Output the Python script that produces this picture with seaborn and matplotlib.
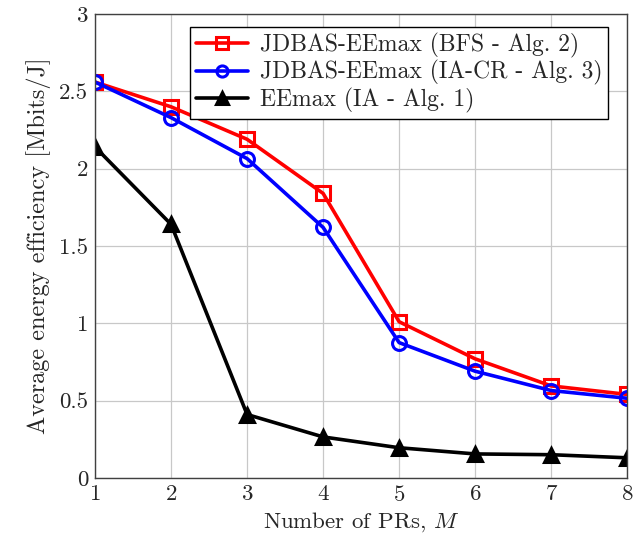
import numpy as np
import pandas as pd
import matplotlib
matplotlib.use('Agg')
import matplotlib.pyplot as plt
import seaborn as sns

num_prs = [1, 2, 3, 4, 5, 6, 7, 8]
ee_bfs = [2.56, 2.40, 2.19, 1.84, 1.01, 0.77, 0.595, 0.54]
ee_iacr = [2.56, 2.33, 2.065, 1.62, 0.875, 0.69, 0.565, 0.515]
ee_ia = [2.14, 1.64, 0.41, 0.265, 0.195, 0.155, 0.15, 0.13]

labels = ['JDBAS-EEmax (BFS - Alg. 2)',
          'JDBAS-EEmax (IA-CR - Alg. 3)',
          'EEmax (IA - Alg. 1)']

sns.set_style('whitegrid')
plt.rcParams['font.family'] = ['cmr10', 'DejaVu Serif']
plt.rcParams['mathtext.fontset'] = 'cm'
plt.rcParams['axes.formatter.use_mathtext'] = True

fig = plt.figure(figsize=(6.38, 5.4), dpi=100)
ax = fig.add_axes([0.149, 0.115, 0.834, 0.859])

series = [
    (ee_bfs, 'red', 's', 'none'),
    (ee_iacr, 'blue', 'o', 'none'),
    (ee_ia, 'black', '^', 'black'),
]
for (vals, col, mk, fc), lab in zip(series, labels):
    df = pd.DataFrame({'M': num_prs, 'EE': vals})
    sns.lineplot(data=df, x='M', y='EE', ax=ax, color=col, marker=mk,
                 markersize=10, markerfacecolor=fc, markeredgecolor=col,
                 markeredgewidth=2.2, linewidth=2.6, label=lab)

ax.set_xlim(1, 8)
ax.set_ylim(0, 3)
ax.set_xticks(num_prs)
ax.set_yticks([0, 0.5, 1, 1.5, 2, 2.5, 3])
ax.set_yticklabels(['0', '0.5', '1', '1.5', '2', '2.5', '3'])
ax.grid(True, color='#c8c8c8', linewidth=0.9)
for s in ax.spines.values():
    s.set_color('#404040')
    s.set_linewidth(1.0)
ax.tick_params(labelsize=16.5, direction='in', length=4, color='#404040', pad=5)
ax.set_xlabel('Number of PRs, $M$', fontsize=16.5)
ax.set_ylabel('Average energy efficiency [Mbits/J]', fontsize=17.5, labelpad=6)

leg = ax.legend(loc='upper right', bbox_to_anchor=(0.964, 0.972), fontsize=17,
                frameon=True, fancybox=False, markerscale=0.8,
                borderpad=0.25, labelspacing=0.1, handlelength=2.2,
                handletextpad=0.5, borderaxespad=0.0)
leg.get_frame().set_edgecolor('black')
leg.get_frame().set_linewidth(1.0)
leg.get_frame().set_alpha(1)

fig.savefig('out.png', dpi=100)
